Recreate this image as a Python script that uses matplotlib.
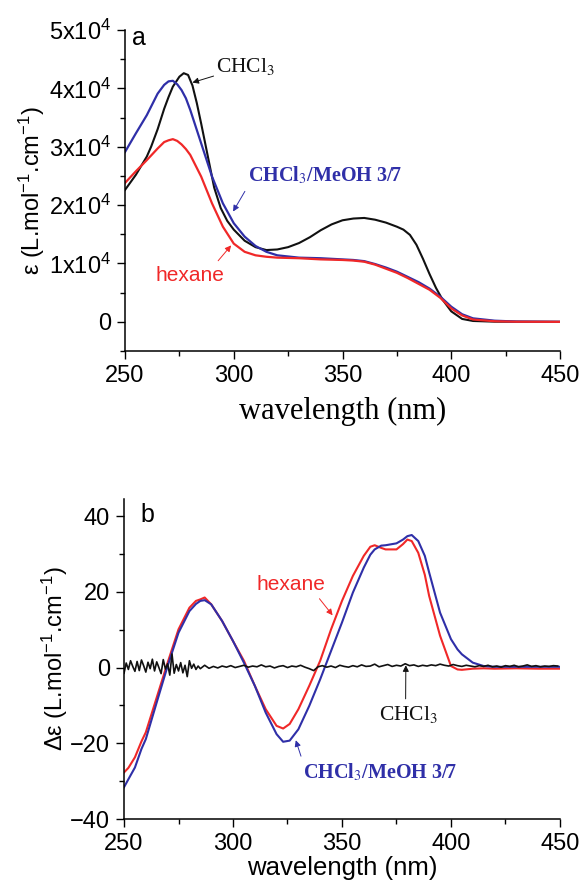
import numpy as np
import matplotlib
matplotlib.use("Agg")
import matplotlib.pyplot as plt
from matplotlib.ticker import MultipleLocator, FuncFormatter

plt.rcParams['font.family'] = ['Liberation Sans', 'DejaVu Sans']
plt.rcParams['mathtext.fontset'] = 'custom'
plt.rcParams['mathtext.rm'] = 'Liberation Sans'
plt.rcParams['mathtext.it'] = 'Liberation Sans:italic'

BLACK = '#111111'
BLUE = '#2f2fa8'
RED = '#f02828'

# ---- panel a: absorption (epsilon, L/mol/cm) ----
wl_abs_chcl3 = [250, 255, 260, 262, 265, 268, 270, 272, 275, 277, 279, 281,
                283, 285, 288, 291, 294, 297, 300, 305, 310, 315, 320, 325,
                330, 335, 340, 345, 350, 355, 360, 365, 370, 375, 378, 381,
                384, 387, 390, 393, 396, 400, 405, 410, 420, 450]
abs_chcl3 = [22600, 25200, 28300, 30000, 33000, 36500, 38500, 40300, 42000,
             42600, 42300, 40500, 37500, 34000, 28500, 23000, 19500, 17300,
             15800, 13900, 12800, 12300, 12400, 12800, 13500, 14500, 15700,
             16700, 17400, 17700, 17800, 17500, 17000, 16300, 15800, 14900,
             13200, 10800, 8200, 5800, 3800, 1800, 500, 150, 30, 0]

wl_abs = [250, 255, 260, 265, 268, 270, 272, 274, 276, 278, 280, 285, 290, 295,
          300, 305, 310, 315, 320, 325, 330, 335, 340, 345, 350, 355, 360, 365,
          370, 375, 380, 385, 390, 395, 400, 405, 410, 420, 430, 450]
abs_meoh = [29100, 32300, 35400, 39100, 40600, 41200, 41300, 40700, 39700,
            38300, 36300, 30600, 24900, 20300, 16900, 14600, 13000, 12000,
            11400, 11200, 11000, 10950, 10900, 10800, 10700, 10600, 10400,
            9900, 9300, 8600, 7700, 6800, 5700, 4300, 2600, 1300, 600, 200,
            50, 0]
abs_hexane = [23800, 25800, 27700, 29700, 30800, 31100, 31300, 31000, 30400,
              29600, 28600, 24900, 20300, 16300, 13400, 12000, 11400, 11150,
              11000, 10950, 10900, 10800, 10700, 10650, 10600, 10500, 10300,
              9800, 9100, 8400, 7500, 6500, 5500, 4100, 2300, 1100, 400, 100,
              20, 0]

# ---- panel b: circular dichroism (delta epsilon) ----
wl_cd = [250, 252, 255, 258, 260, 265, 270, 275, 280, 283, 285, 287, 290, 295,
         300, 305, 310, 315, 320, 323, 326, 330, 335, 340, 345, 350, 355, 360,
         363, 365, 368, 370, 375, 378, 380, 382, 385, 388, 390, 395, 400, 403,
         405, 410, 415, 420, 430, 440, 450]
cd_meoh = [-31.6, -29.5, -26.4, -21.5, -18.9, -9.2, 0.4, 9.2, 14.9, 16.8, 17.6,
           17.8, 16.7, 12.3, 7.0, 1.3, -4.8, -11.9, -17.6, -19.6, -19.3, -16.3,
           -10.1, -3.1, 4.4, 11.9, 19.8, 26.4, 29.8, 31.2, 32.2, 32.3, 32.8,
           33.8, 34.7, 35.0, 33.4, 29.5, 25.1, 14.5, 7.5, 4.8, 3.5, 1.3, 0.4,
           0.2, 0.2, 0.2, 0.2]
cd_hexane = [-27.7, -26.5, -23.7, -19.5, -17.1, -7.9, 1.3, 10.1, 15.8, 17.6,
             18.0, 18.5, 16.7, 12.3, 7.0, 1.8, -4.8, -11.0, -15.4, -16.1, -14.9,
             -11.0, -4.8, 1.8, 10.1, 17.6, 24.2, 29.5, 31.9, 32.3, 31.6, 31.2,
             31.2, 32.6, 33.8, 33.4, 30.3, 24.5, 18.9, 8.4, 0.4, -0.5, -0.6,
             -0.3, -0.2, -0.3, -0.2, -0.3, -0.3]

wl_cd_noisy = list(range(250, 286)) + list(range(287, 450, 2))
cd_chcl3 = [-1.5, 1.2, -0.5, 1.8, 0.3, -1.0, 1.6, -0.8, 2.0, 0.5, -1.2, 1.4,
            -0.3, 2.2, -0.9, 1.5, 0.0, -1.6, 2.1, -0.4, 1.0, -2.0, 3.6, -1.5,
            0.8, -0.9, 1.3, -1.4, 0.6, -2.4, 1.8, -0.2, 0.9, -0.5, 0.4, -0.3,
            0.6, -0.2, 0.3, -0.1, 0.4, 0.1, 0.5, 0.0, 0.3, 0.6, 0.1, 0.4, 0.2,
            0.7, 0.2, 0.4, -0.1, 0.3, 0.5, 0.0, 0.4, 0.2, 0.6, 0.1, -0.3, -0.8,
            0.2, 0.5, 0.1, 0.4, 0.0, 0.6, 0.3, 0.1, 0.5, 0.2, 0.7, 0.3, 0.4,
            0.9, 0.2, 0.5, 0.8, 0.3, 0.6, 0.4, 1.0, 0.5, 0.7, 0.3, 0.6, 0.4,
            0.7, 0.5, 0.9, 0.6, 0.4, 0.8, 0.5, 0.3, 0.6, 0.4, 0.2, 0.5, 0.3,
            0.6, 0.2, 0.4, 0.1, 0.5, 0.3, 0.6, 0.2, 0.4, 0.7, 0.3, 0.5, 0.2,
            0.4, 0.3, 0.5, 0.4]

fig = plt.figure(figsize=(5.82, 8.8), dpi=100)
ax1 = fig.add_axes([0.2148, 0.6011, 0.7474, 0.3648])
ax2 = fig.add_axes([0.2131, 0.0693, 0.749, 0.3636])


def style(ax):
    for s in ['top', 'right']:
        ax.spines[s].set_visible(False)
    for s in ['left', 'bottom']:
        ax.spines[s].set_linewidth(1.1)
    ax.tick_params(which='major', length=6, width=1.0, labelsize=17, pad=4)
    ax.tick_params(which='minor', length=3.5, width=1.0)
    ax.set_xlim(250, 450)
    ax.xaxis.set_major_locator(MultipleLocator(50))
    ax.xaxis.set_minor_locator(MultipleLocator(25))


# panel a
style(ax1)
ax1.plot(wl_abs_chcl3, abs_chcl3, color=BLACK, lw=1.5)
ax1.plot(wl_abs, abs_meoh, color=BLUE, lw=1.6)
ax1.plot(wl_abs, abs_hexane, color=RED, lw=1.6)
ax1.set_ylim(-5000, 50000)
ax1.yaxis.set_major_locator(MultipleLocator(10000))
ax1.yaxis.set_minor_locator(MultipleLocator(5000))
ax1.yaxis.set_major_formatter(FuncFormatter(
    lambda v, p: '0' if v == 0 else '%dx10$^4$' % round(v / 1e4)))
ax1.set_ylabel('ε (L.mol$^{-1}$.cm$^{-1}$)', fontsize=17)
ax1.yaxis.set_label_coords(-0.18, 0.5)
ax1.set_xlabel('wavelength (nm)', fontsize=22, family='Liberation Serif',
               labelpad=7)
ax1.text(0.015, 0.975, 'a', transform=ax1.transAxes, fontsize=18,
         ha='left', va='center')

ax1.annotate('CHCl$_3$', xy=(281, 41000), xytext=(292, 43800),
             fontsize=15.5, family='Liberation Serif', math_fontfamily='stix',
             color=BLACK, ha='left', va='center',
             arrowprops=dict(arrowstyle='-|>', color=BLACK, lw=0.7,
                             mutation_scale=9, shrinkA=0, shrinkB=0))
ax1.annotate('CHCl$_3$/MeOH 3/7', xy=(299.7, 18900), xytext=(306.5, 25100),
             fontsize=14.5, family='Liberation Serif', math_fontfamily='stix',
             fontweight='bold', color=BLUE, ha='left', va='center',
             arrowprops=dict(arrowstyle='-|>', color=BLUE, lw=0.7,
                             mutation_scale=9, shrinkA=2, shrinkB=0,
                             relpos=(0, 0)))
ax1.annotate('hexane', xy=(298.8, 13100), xytext=(264, 8000),
             fontsize=15, color=RED, ha='left', va='center',
             arrowprops=dict(arrowstyle='-|>', color=RED, lw=0.7,
                             mutation_scale=9, shrinkA=2, shrinkB=0,
                             relpos=(0.85, 1)))

# panel b
style(ax2)
ax2.plot(wl_cd, cd_hexane, color=RED, lw=1.5)
ax2.plot(wl_cd, cd_meoh, color=BLUE, lw=1.5)
ax2.plot(wl_cd_noisy, cd_chcl3, color=BLACK, lw=1.2)
ax2.set_ylim(-40, 44.5)
ax2.yaxis.set_major_locator(MultipleLocator(20))
ax2.yaxis.set_minor_locator(MultipleLocator(10))
ax2.set_ylabel('Δε (L.mol$^{-1}$.cm$^{-1}$)', fontsize=17)
ax2.yaxis.set_label_coords(-0.123, 0.5)
ax2.set_xlabel('wavelength (nm)', fontsize=18.5, labelpad=1)
ax2.text(0.037, 0.95, 'b', transform=ax2.transAxes, fontsize=18,
         ha='left', va='center')

ax2.annotate('hexane', xy=(345.7, 13.8), xytext=(311, 22),
             fontsize=15, color=RED, ha='left', va='center',
             arrowprops=dict(arrowstyle='-|>', color=RED, lw=0.7,
                             mutation_scale=9, shrinkA=2, shrinkB=0,
                             relpos=(0.85, 0)))
ax2.annotate('CHCl$_3$', xy=(379.3, 0.6), xytext=(367, -12.5),
             fontsize=15.5, family='Liberation Serif', math_fontfamily='stix',
             color=BLACK, ha='left', va='center',
             arrowprops=dict(arrowstyle='-|>', color=BLACK, lw=0.7,
                             mutation_scale=9, shrinkA=2, shrinkB=0,
                             relpos=(0.45, 1)))
ax2.annotate('CHCl$_3$/MeOH 3/7', xy=(328.8, -19.2), xytext=(332, -27.7),
             fontsize=14.5, family='Liberation Serif', math_fontfamily='stix',
             fontweight='bold', color=BLUE, ha='left', va='center',
             arrowprops=dict(arrowstyle='-|>', color=BLUE, lw=0.7,
                             mutation_scale=9, shrinkA=2, shrinkB=0,
                             relpos=(0, 1)))

fig.savefig('out.png', dpi=100)
